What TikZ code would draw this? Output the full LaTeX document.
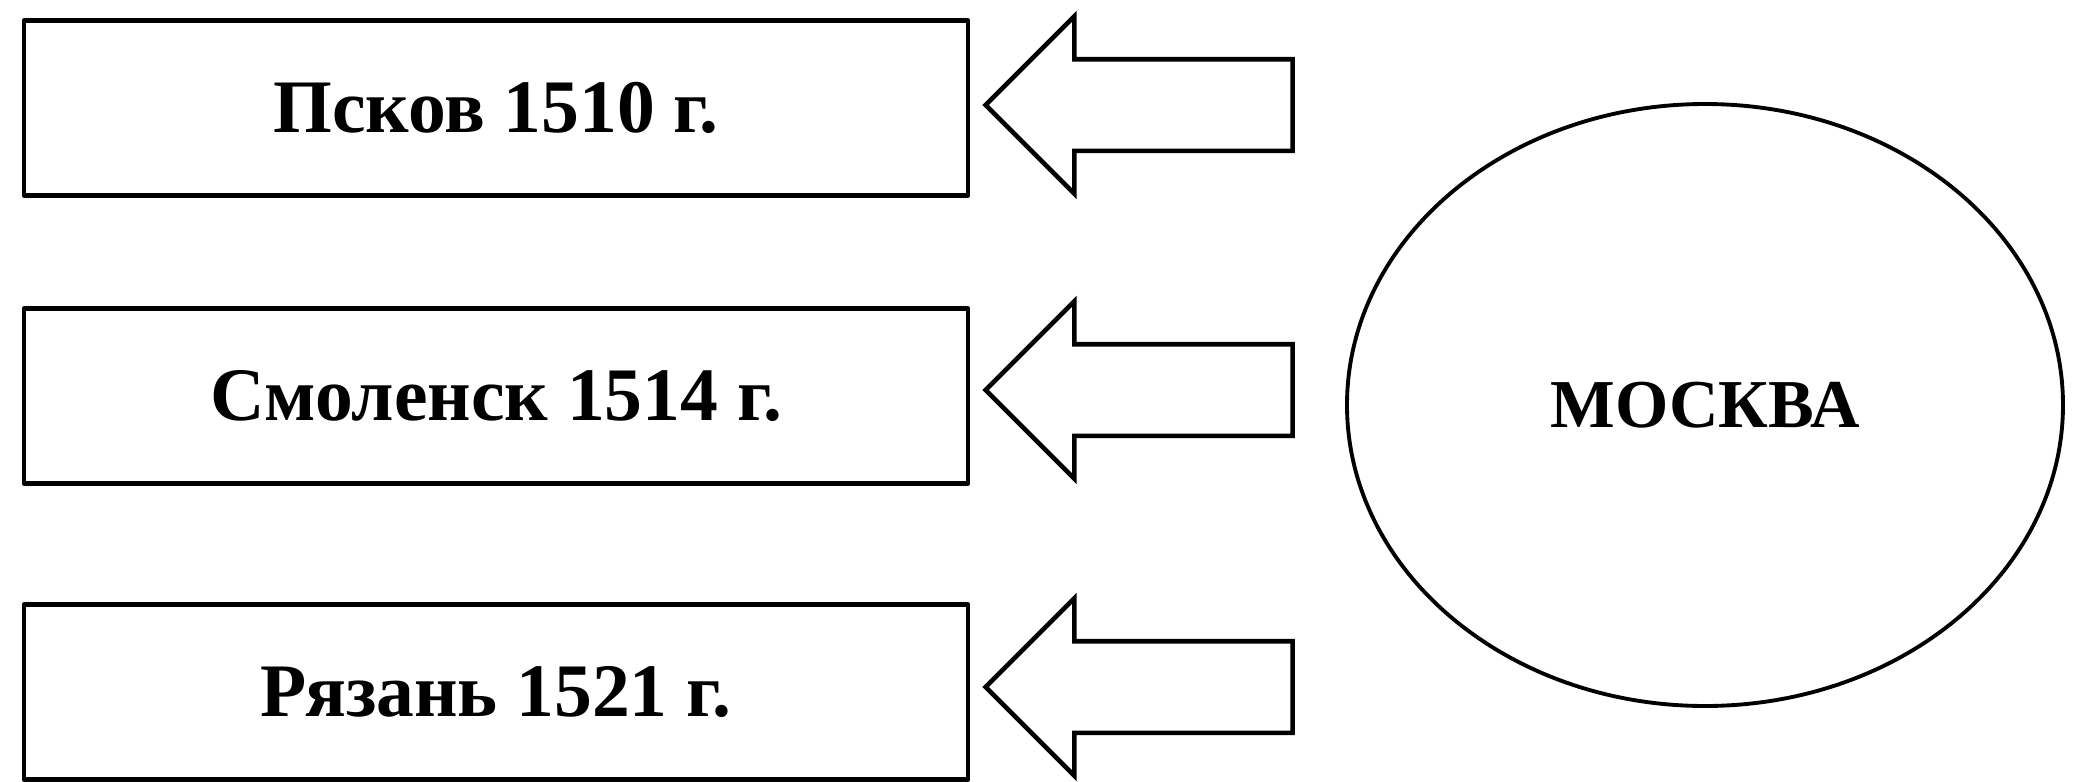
\documentclass[tikz,border=0pt]{standalone}
\usepackage{fontspec}
\setmainfont{Liberation Serif}
\usetikzlibrary{shapes.geometric,shapes.arrows}
\begin{document}
\begin{tikzpicture}[line cap=round,line join=round,x=1cm,y=1cm,
            town/.style={draw,line width=1.3pt,minimum width=9.44cm,minimum height=1.75cm,font=\fontsize{21.5}{24}\selectfont\bfseries},
            bigarrow/.style={draw,line width=1.3pt,line join=miter,single arrow,shape border rotate=180,minimum height=3.07cm,text height=0.435cm,text depth=0.435cm,single arrow head extend=0.43cm,inner sep=0pt},
            capital/.style={draw,ellipse,line width=1.1pt,minimum width=7.16cm,minimum height=6.02cm,font=\fontsize{19.5}{22}\selectfont\bfseries}]
            \useasboundingbox (0,0) rectangle (20.8,-7.82);
            \node[town] (pskov) at (4.96,-1.08) {Псков 1510 г.};
            \node[town] (smolensk) at (4.96,-3.96) {Смоленск 1514 г.};
            \node[town] (ryazan) at (4.96,-6.92) {Рязань 1521 г.};
            \node[bigarrow] (topointpskov) at (11.62,-1.05) {};
            \node[bigarrow] (topointsmolensk) at (11.62,-3.90) {};
            \node[bigarrow] (topointryazan) at (11.62,-6.87) {};
            \node[capital] (moskva) at (17.05,-4.05) {МОСКВА};
        \end{tikzpicture}
\end{document}
